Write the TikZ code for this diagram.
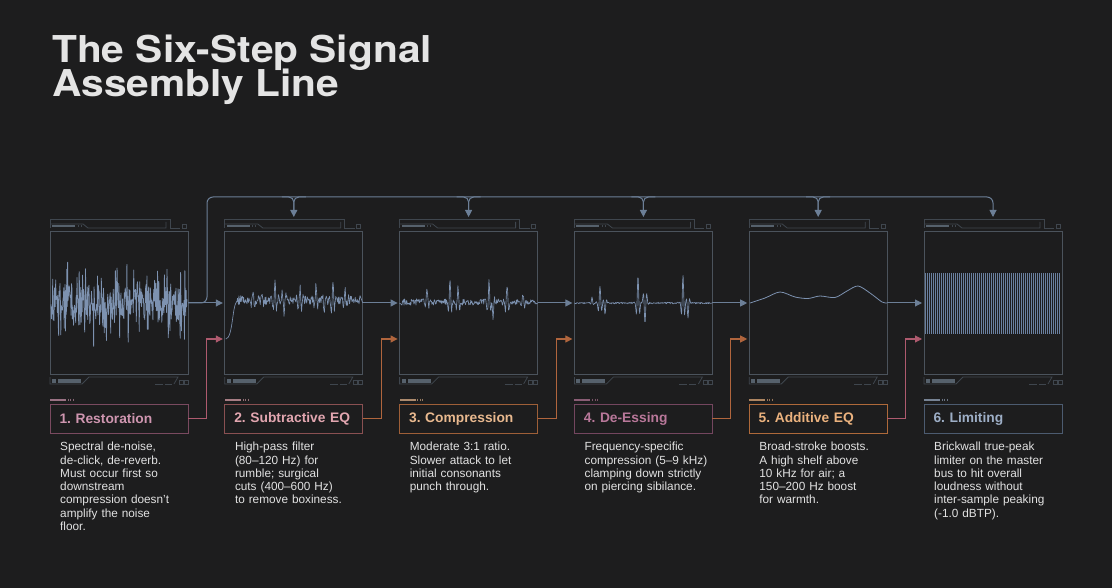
\documentclass[tikz,border=0pt]{standalone}
\usepackage{fontspec}
\setmainfont{Liberation Sans}
\newfontfamily\titlefont{TeX Gyre Heros}
\usetikzlibrary{arrows.meta,calc}

\definecolor{bgcol}{HTML}{1D1D1E}
\definecolor{framecol}{HTML}{4B535C}
\definecolor{chromecol}{HTML}{3F464E}
\definecolor{barcol}{HTML}{56616C}
\definecolor{wavecol}{HTML}{7D92B0}
\definecolor{stripecol}{HTML}{6A80A0}
\definecolor{sigcol}{HTML}{6C7F97}
\definecolor{desccol}{HTML}{E2E2E2}
\definecolor{titlecol}{HTML}{E4E4E4}
% step colours (border / text)
\definecolor{restB}{HTML}{7A4A60}\definecolor{restT}{HTML}{CF96B0}
\definecolor{subB}{HTML}{8A5052}\definecolor{subT}{HTML}{E2A6B0}
\definecolor{compB}{HTML}{9E5F38}\definecolor{compT}{HTML}{E9B98F}
\definecolor{essB}{HTML}{74465F}\definecolor{essT}{HTML}{B9789A}
\definecolor{addB}{HTML}{AE693A}\definecolor{addT}{HTML}{EBB27E}
\definecolor{limB}{HTML}{4C5B70}\definecolor{limT}{HTML}{9DAEC6}
\definecolor{pinklink}{HTML}{AE5A6E}
\definecolor{orangelink}{HTML}{B0653D}

\tikzset{
  panel/.style={draw=framecol, line width=1pt, minimum width=138pt, minimum height=142pt, inner sep=0pt, outer sep=0pt},
  chrome/.style={draw=chromecol, line width=0.8pt},
  stepbox/.style={line width=1pt, minimum width=138pt, minimum height=29pt, text width=119pt, inner xsep=9.5pt, inner ysep=0pt, outer sep=0pt, align=left, font=\fontsize{13.8}{16}\selectfont\bfseries\frenchspacing},
  desc/.style={text=desccol, text width=135pt, inner sep=0pt, align=left, anchor=north west, font=\fontsize{11.8}{13.3}\selectfont},
  titletext/.style={anchor=base west, inner sep=0pt, text=titlecol, font=\titlefont\bfseries\fontsize{37}{37}\selectfont},
  wave/.style={draw=wavecol, line width=0.65pt, line join=round},
  sig/.style={draw=sigcol, line width=1pt, -{Triangle[length=7pt,width=7pt]}},
  link/.style={line width=1pt, -{Triangle[length=7pt,width=7pt]}, shorten >=2pt},
}

\begin{document}
\begin{tikzpicture}[x=1pt,y=-1pt,
  declare function={burst(\bq,\bm,\bh,\bw)=\bh*exp(-min(((\bq-\bm)/\bw)^2,16))*cos(95*(\bq-\bm));}]
\fill[bgcol] (0,0) rectangle (1112,588);
\useasboundingbox (0,0) rectangle (1112,588);

% title
\node[titletext] (title) at (52,63) {\scalebox{1.1}[1]{The Six-Step Signal}};
\node[titletext] (subtitle) at (52,97) {\scalebox{1.1}[1]{Assembly Line}};

% panels with header and footer chrome
\foreach \i in {1,...,6}{
  \pgfmathsetmacro\dx{174.8*(\i-1)}
  \node[panel] (p\i) at (119+\dx,303) {};
  \begin{scope}[shift={(\dx,0)}]
    \draw[chrome] (50,228) -- (50,219) -- (170,219) -- (170,228) -- (180,228);
    \draw[chrome] (50,224) -- (83,224) -- (88,228) -- (166,228) -- (166,222);
    \fill[barcol] (52,225) rectangle (75,227.5);
    \draw[chrome] (78,225) -- (78,227.5) (81,225) -- (81,227.5);
    \draw[chrome] (182,224.5) rectangle (186,228);
    \draw[chrome] (50,377) -- (50,384) -- (82,384) -- (89,377) -- (178,377) -- (174,384);
    \fill[barcol] (58,379) rectangle (81,382.5);
    \fill[barcol] (52,379) rectangle (56,382.5);
    \draw[chrome] (155,384) -- (163,384) (165,384) -- (172,384);
    \draw[chrome] (179,380) rectangle (183,384) (184,380) rectangle (188,384);
  \end{scope}
}

% waveforms
\pgfmathsetseed{42}
\draw[wave, line width=0.75pt] plot[domain=51:187, samples=320] (\x,{303+17*rand+30*(rand)^3});
\draw[wave] ($(p2.west)+(1,36)$) .. controls (233,338) and (232,306) .. (237,301)
  -- plot[domain=237:360, samples=260] (\x,{300+4.5*rand+burst(\x,253,-7,2)+burst(\x,262,-6,2)+burst(\x,275,-24,2)+burst(\x,284,13,2.5)+burst(\x,300,-12,3)+burst(\x,316,-17,2)+burst(\x,324,12,2)+burst(\x,333,-19,2)+burst(\x,345,-9,2.5)})
  -- (p2.east);
\draw[wave] (p3.west) -- plot[domain=402:536, samples=260] (\x,{302+3.2*rand+burst(\x,427,-13,2)+burst(\x,450,-21,1.8)+burst(\x,458,-14,1.8)+burst(\x,489,-21,2)+burst(\x,493,15,1.5)+burst(\x,507,-18,2)+burst(\x,523,-8,2)})
  -- (p3.east);
\draw[wave] (p4.west) -- plot[domain=576:710, samples=270] (\x,{303+0.8*rand+burst(\x,592,-6,1.5)+burst(\x,600,-17,2)+burst(\x,605,11,1.5)+burst(\x,638,-27,1.8)+burst(\x,645,21,2)+burst(\x,683,-28,1.8)+burst(\x,688,15,1.5)})
  -- (p4.east);
\draw[wave, line width=0.8pt] plot[smooth] coordinates {(750,303) (765,298) (780,292) (795,297) (808,298.5) (820,296) (835,297.5) (847,291) (858,286) (870,293) (882,302) (887,303)};
\foreach \k in {0,...,67}
  \draw[draw=stripecol, line width=0.8pt] (925+2*\k,273) -- (925+2*\k,334);

% signal line
\foreach \i/\j in {1/2,2/3,3/4,4/5,5/6}
  \draw[sig, shorten >=2pt] (p\i.east) -- (p\j.west);

% bus over the top
\coordinate (busturn) at (207,197);
\draw[sig, rounded corners=6pt] (p1.east) -| (busturn) -| ($(p6.north)+(0,-15)$);
\foreach \i in {2,...,5}{
  \draw[sig, rounded corners=5pt] ($(p\i.north)+(-12,-35)$) -| ($(p\i.north)+(0,-15)$);
  \draw[draw=sigcol, line width=1pt, rounded corners=5pt] ($(p\i.north)+(12,-35)$) -| ($(p\i.north)+(0,-18)$);
}

% step labels
\node[stepbox, draw=restB, text=restT] (l1) at (p1 |- 0,418.5) {1. Restoration};
\node[stepbox, draw=subB, text=subT] (l2) at (p2 |- 0,418.5) {2. Subtractive EQ};
\node[stepbox, draw=compB, text=compT] (l3) at (p3 |- 0,418.5) {3. Compression};
\node[stepbox, draw=essB, text=essT] (l4) at (p4 |- 0,418.5) {4. De-Essing};
\node[stepbox, draw=addB, text=addT] (l5) at (p5 |- 0,418.5) {5. Additive EQ};
\node[stepbox, draw=limB, text=limT] (l6) at (p6 |- 0,418.5) {6. Limiting};

\foreach \i/\col in {1/restT,2/subT,3/compT,4/essT,5/addT,6/limT}{
  \fill[\col!70!bgcol] ($(l\i.north west)+(0,-5.5)$) rectangle ++(16,2);
  \foreach \t in {18,20.5,23}
    \draw[\col!60!bgcol, line width=0.5pt] ($(l\i.north west)+(\t,-5.5)$) -- ++(0,2);
}

% feed links from the labels
\draw[link, pinklink] (l1.east) -- ++(18.5,0) |- ($(p2.west)+(0,36)$);
\draw[link, orangelink] (l2.east) -- ++(18.5,0) |- ($(p3.west)+(0,36)$);
\draw[link, orangelink] (l3.east) -- ++(18.5,0) |- ($(p4.west)+(0,36)$);
\draw[link, orangelink] (l4.east) -- ++(18.5,0) |- ($(p5.west)+(0,36)$);
\draw[link, pinklink] (l5.east) -- ++(18.5,0) |- ($(p6.west)+(0,36)$);

% descriptions
\node[desc] (d1) at ($(l1.south west)+(10,9)$) {Spectral de-noise,\\de-click, de-reverb.\\Must occur first so\\downstream\\compression doesn’t\\amplify the noise\\floor.};
\node[desc] (d2) at ($(l2.south west)+(10,9)$) {High-pass filter\\(80–120 Hz) for\\rumble; surgical\\cuts (400–600 Hz)\\to remove boxiness.};
\node[desc] (d3) at ($(l3.south west)+(10,9)$) {Moderate 3:1 ratio.\\Slower attack to let\\initial consonants\\punch through.};
\node[desc] (d4) at ($(l4.south west)+(10,9)$) {Frequency-specific\\compression (5–9 kHz)\\clamping down strictly\\on piercing sibilance.};
\node[desc] (d5) at ($(l5.south west)+(10,9)$) {Broad-stroke boosts.\\A high shelf above\\10 kHz for air; a\\150–200 Hz boost\\for warmth.};
\node[desc] (d6) at ($(l6.south west)+(10,9)$) {Brickwall true-peak\\limiter on the master\\bus to hit overall\\loudness without\\inter-sample peaking\\(-1.0 dBTP).};
\end{tikzpicture}
\end{document}
